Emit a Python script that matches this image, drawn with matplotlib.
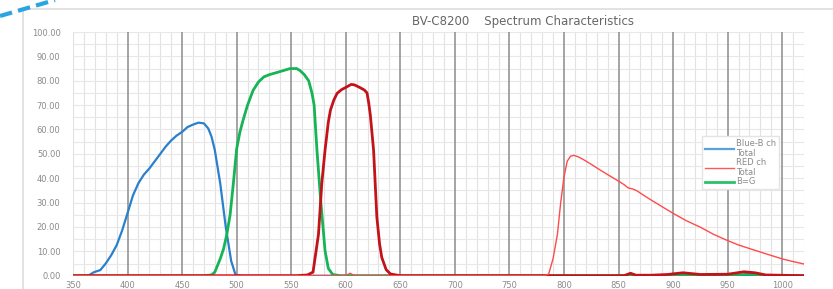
import numpy as np
import matplotlib
matplotlib.use("Agg")
import matplotlib.pyplot as plt
from matplotlib.lines import Line2D

# Blue-B ch Total
blue_nm = [350, 360, 365, 369, 375, 380, 385, 390, 395, 400, 405, 410, 415, 420, 425, 430,
           435, 440, 445, 450, 455, 460, 465, 470, 474, 477, 480, 485, 490, 495, 499, 505, 1020]
blue_val = [0, 0, 0.3, 1.4, 2.3, 5, 8.4, 12.5, 18.5, 25.7, 33, 38, 41.5, 44, 47, 50,
            53, 55.5, 57.5, 59, 61, 62, 62.8, 62.5, 60.4, 57, 51.5, 37.7, 20, 6, 0.3, 0, 0]

# B=G
green_nm = [350, 470, 477, 480, 485, 488, 491, 494, 497, 500, 503, 506, 510, 515, 520, 525,
            530, 537, 543, 549, 555, 558, 562, 566, 569, 571, 573.6, 577, 581, 584, 588, 595,
            895, 910, 925, 955, 970, 985, 1020]
green_val = [0, 0, 0.3, 1.5, 7, 11, 17, 25, 38, 52, 59, 64, 70, 76, 79.5, 81.6,
             82.5, 83.4, 84.2, 85, 85, 84.2, 82.5, 80, 75, 70, 51.5, 31, 10.3, 3, 0.5, 0,
             0, 0.5, 0, 0, 0.7, 0, 0]

# RED ch (band)
dred_nm = [350, 555, 565, 570, 575, 578, 581, 584, 586, 589, 592, 596, 601, 605, 608, 613,
           617, 619.5, 621, 622.5, 625.5, 628.5, 631, 633, 637, 641, 650, 855, 861, 866,
           880, 895, 909, 925, 950, 965, 975, 985, 1020]
dred_val = [0, 0, 0.3, 1.5, 17, 37.7, 51.5, 63, 68, 72, 74.8, 76.3, 77.5, 78.5, 78.3, 77.2,
            76.2, 75, 71, 66, 51.5, 24, 13, 7.5, 2.5, 0.7, 0, 0, 1, 0.2,
            0.2, 0.5, 1.2, 0.5, 0.6, 1.6, 1.2, 0.3, 0]

# RED ch Total
red_nm = [350, 600, 604, 608, 782, 786, 790, 794, 797, 800, 803, 806, 809, 813, 818, 825,
          833, 840, 850, 855, 859, 863, 867, 873, 879, 890, 900, 912, 925, 937, 950, 960,
          971, 985, 1000, 1010, 1020]
red_val = [0, 0, 1, 0, 0, 0.7, 7, 17, 30, 40.5, 47, 49, 49.4, 48.8, 47.6, 45.7,
           43.4, 41.5, 38.8, 37.4, 36, 35.6, 34.8, 33, 31.3, 28.3, 25.6, 22.6, 19.9, 17, 14.4, 12.6,
           11, 9, 6.9, 5.8, 4.8]

fig = plt.figure(figsize=(8.33, 2.89), dpi=100)
fig.patch.set_facecolor("white")

# outer frame and decoration
fig.add_artist(Line2D([23/833, 23/833], [0, 1 - 9/289], color="#dddddd", lw=1.2))
fig.add_artist(Line2D([23/833, 1], [1 - 9/289, 1 - 9/289], color="#dddddd", lw=1.2))
fig.add_artist(Line2D([0, 55/833], [1 - 16/289, 1], color="#2aa5df", lw=3, ls=(0, (3, 1.5))))

ax = fig.add_axes([73/833, 1 - 275.7/289, (804 - 73)/833, (275.7 - 32)/289])
ax.set_xlim(350, 1020)
ax.set_ylim(0, 100)

for x in range(350, 1021, 10):
    if x % 50 == 0 and 400 <= x <= 1000:
        ax.axvline(x, color="#8c8c8c", lw=1.1, zorder=1)
    else:
        ax.axvline(x, color="#e2e2e2", lw=0.8, zorder=0)
for y in range(0, 101, 5):
    ax.axhline(y, color="#e8e8e8", lw=0.8, zorder=0)

ax.plot(blue_nm, blue_val, color="#2a80cc", lw=1.6, zorder=3)
ax.plot(green_nm, green_val, color="#16b456", lw=2.0, zorder=4)
ax.plot(dred_nm, dred_val, color="#c4121a", lw=2.0, zorder=5)
ax.plot(red_nm, red_val, color="#ff4a4a", lw=1.0, zorder=6)

for s in ax.spines.values():
    s.set_visible(False)
ax.set_xticks(range(350, 1001, 50))
ax.set_yticks(range(0, 101, 10))
ax.set_yticklabels(["%.2f" % v for v in range(0, 101, 10)])
ax.tick_params(length=0, labelsize=6, labelcolor="#8a8a8a", pad=4)
ax.tick_params(axis="y", pad=9)

handles = [Line2D([], [], color="#5aa2de", lw=1.6),
           Line2D([], [], color="#ff5a5a", lw=1.0),
           Line2D([], [], color="#2cc06a", lw=2.0)]
leg = fig.legend(handles, ["Blue-B ch\nTotal", "RED ch\nTotal", "B=G"],
                 loc="upper left", bbox_to_anchor=(698/833, 1 - 132/289),
                 fontsize=6, handlelength=3.5, handletextpad=0.3, labelspacing=0.0,
                 borderpad=0.3, fancybox=False, framealpha=1, edgecolor="#e4e4e4")
for t in leg.get_texts():
    t.set_color("#8a8a8a")

fig.text(523/833, 1 - 22/289, "BV-C8200    Spectrum Characteristics", ha="center", va="center",
         fontsize=8.5, color="#666666")

fig.savefig("out.png", dpi=100)
